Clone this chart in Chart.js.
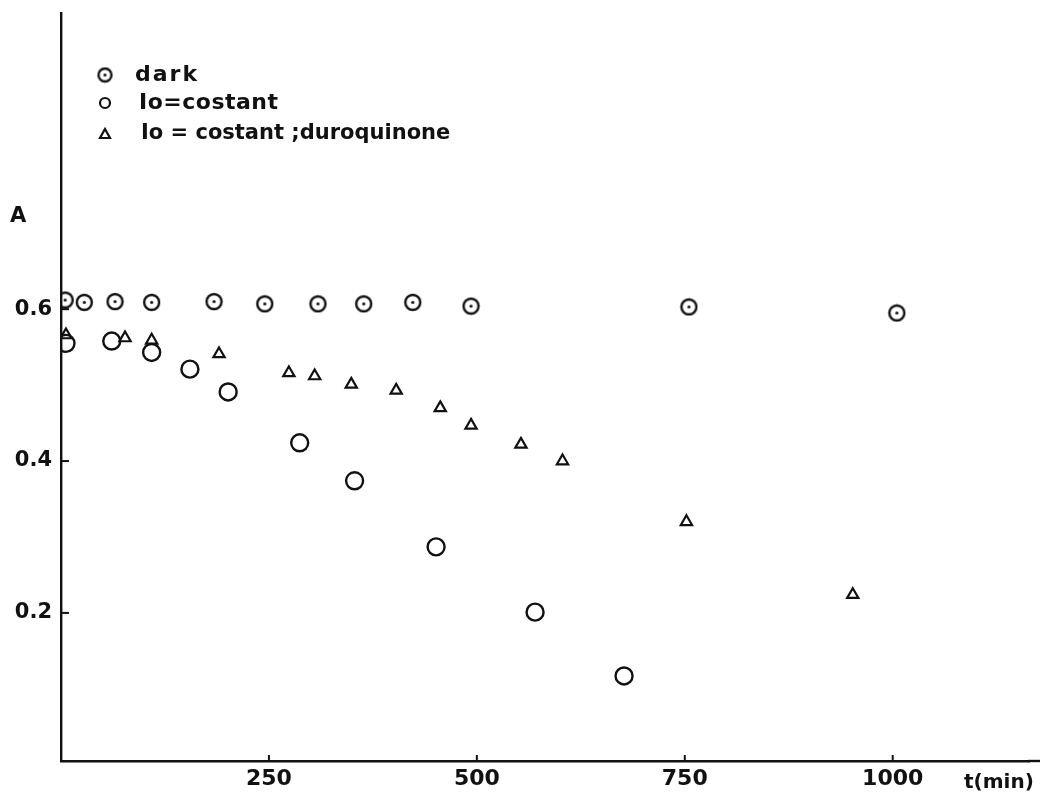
<!DOCTYPE html>
<html>
<head>
<meta charset="utf-8">
<script src="https://cdn.jsdelivr.net/npm/chart.js@4.4.1/dist/chart.umd.min.js"></script>
<style>
  html, body { margin: 0; padding: 0; background: #fff; }
  #wrap { width: 1040px; height: 795px; position: relative; }
</style>
</head>
<body>
<div id="wrap"><canvas id="absChart"></canvas></div>
<script>
// data (t in min, A absorbance)
const darkT = [5, 28, 65, 109, 184, 245, 309, 364, 423, 493, 755, 1005];
const darkA = [0.612, 0.609, 0.610, 0.609, 0.610, 0.607, 0.607, 0.607, 0.609, 0.604, 0.603, 0.595];

const lightT = [6, 61, 109, 155, 201, 287, 353, 451, 570, 677];
const lightA = [0.555, 0.558, 0.543, 0.521, 0.491, 0.424, 0.374, 0.287, 0.201, 0.117];

const duroT = [6, 77, 109, 190, 274, 305, 349, 403, 456, 493, 553, 603, 752, 952];
const duroA = [0.566, 0.562, 0.559, 0.541, 0.516, 0.512, 0.501, 0.493, 0.470, 0.447, 0.422, 0.400, 0.320, 0.224];

const xTicks = [250, 500, 750, 1000];
const yTicks = [0.2, 0.4, 0.6];

const legendLabels = ['dark', 'Io=costant', 'Io = costant ;duroquinone'];

const INK = '#111';
const FONT = '"DejaVu Sans", "Liberation Sans", sans-serif';

// circle with a dot in the middle, for the "dark" series
function dotCircle(r) {
    const c = document.createElement('canvas');
    const s = Math.ceil(r * 2 + 4);
    c.width = s; c.height = s;
    const g = c.getContext('2d');
    g.strokeStyle = INK;
    g.lineWidth = 2.4;
    g.beginPath();
    g.arc(s / 2, s / 2, r, 0, Math.PI * 2);
    g.stroke();
    g.fillStyle = INK;
    g.beginPath();
    g.arc(s / 2, s / 2, 1.6, 0, Math.PI * 2);
    g.fill();
    return c;
}

const darkMarker = dotCircle(7.5);
const legendDark = dotCircle(6.5);

function pts(xs, ys) {
    return xs.map((x, i) => ({ x: x, y: ys[i] }));
}

function spaced(ctx, text, x, y, gap) {
    if ('letterSpacing' in ctx) ctx.letterSpacing = gap + 'px';
    ctx.fillText(text, x, y);
    if ('letterSpacing' in ctx) ctx.letterSpacing = '0px';
}

// inward tick marks, axis labels and the legend block
const decorations = {
    id: 'decorations',
    afterDraw(chart) {
        const ctx = chart.ctx;
        const xs = chart.scales.x, ys = chart.scales.y;
        const area = chart.chartArea;
        ctx.save();
        ctx.strokeStyle = INK;
        // x axis runs on to the right edge of the page
        ctx.lineWidth = 2.4;
        ctx.beginPath();
        ctx.moveTo(area.right - 1, area.bottom);
        ctx.lineTo(chart.width, area.bottom);
        ctx.stroke();

        ctx.lineWidth = 2;
        yTicks.forEach(v => {
            const py = ys.getPixelForValue(v);
            ctx.beginPath();
            ctx.moveTo(area.left, py);
            ctx.lineTo(area.left + 8, py);
            ctx.stroke();
        });
        xTicks.forEach(v => {
            const px = xs.getPixelForValue(v);
            ctx.beginPath();
            ctx.moveTo(px, area.bottom);
            ctx.lineTo(px, area.bottom - 6);
            ctx.stroke();
        });

        ctx.fillStyle = INK;
        ctx.textBaseline = 'middle';
        ctx.textAlign = 'left';
        ctx.font = 'bold 21px ' + FONT;
        ctx.fillText('A', 10, 217);
        ctx.font = 'bold 20px ' + FONT;
        ctx.fillText('t(min)', 964, 783);

        // legend
        const rows = [75, 103, 134];
        ctx.drawImage(legendDark, 105 - legendDark.width / 2, rows[0] - legendDark.height / 2);
        ctx.lineWidth = 2.2;
        ctx.beginPath();
        ctx.arc(105, rows[1], 5, 0, Math.PI * 2);
        ctx.stroke();
        ctx.beginPath();
        ctx.moveTo(100, rows[2] + 4);
        ctx.lineTo(110, rows[2] + 4);
        ctx.lineTo(105, rows[2] - 5);
        ctx.closePath();
        ctx.stroke();

        ctx.font = 'bold 22px ' + FONT;
        spaced(ctx, legendLabels[0], 135, rows[0], 2);
        spaced(ctx, legendLabels[1], 139, rows[1], 0.5);
        ctx.font = 'bold 21px ' + FONT;
        spaced(ctx, legendLabels[2], 141, rows[2], 0);
        ctx.restore();
    }
};

const ctx = document.getElementById('absChart').getContext('2d');
const chart = new Chart(ctx, {
    type: 'scatter',
    data: {
        datasets: [
            {
                label: legendLabels[0],
                data: pts(darkT, darkA),
                pointStyle: darkMarker
            },
            {
                label: legendLabels[1],
                data: pts(lightT, lightA),
                pointStyle: 'circle',
                pointRadius: 8.5,
                pointBorderWidth: 2.4,
                pointBorderColor: INK,
                pointBackgroundColor: 'rgba(0,0,0,0)'
            },
            {
                label: legendLabels[2],
                data: pts(duroT, duroA),
                pointStyle: 'triangle',
                pointRadius: 6.5,
                pointBorderWidth: 2.2,
                pointBorderColor: INK,
                pointBackgroundColor: 'rgba(0,0,0,0)'
            }
        ]
    },
    options: {
        responsive: true,
        maintainAspectRatio: false,
        animation: false,
        layout: {
            padding: { top: 13, right: 0, left: 0, bottom: 0 }
        },
        scales: {
            x: {
                type: 'linear',
                min: 0,
                max: 1164,
                afterFit: function (scale) {
                    scale.height = 34;
                    scale.paddingLeft = 0;
                    scale.paddingRight = 0;
                },
                afterBuildTicks: function (scale) {
                    scale.ticks = xTicks.map(v => ({ value: v }));
                },
                grid: { display: false, drawTicks: false },
                border: { display: true, color: INK, width: 2.4 },
                ticks: {
                    padding: 5,
                    color: INK,
                    font: { family: FONT, size: 22, weight: 'bold' },
                    callback: function (value) {
                        return String(value);
                    }
                }
            },
            y: {
                type: 'linear',
                min: 0.005,
                max: 0.99,
                afterFit: function (scale) {
                    scale.width = 61;
                    scale.paddingTop = 0;
                    scale.paddingBottom = 0;
                },
                afterBuildTicks: function (scale) {
                    scale.ticks = yTicks.map(v => ({ value: v }));
                },
                grid: { display: false, drawTicks: false },
                border: { display: true, color: INK, width: 2.4 },
                ticks: {
                    padding: 9,
                    color: INK,
                    font: { family: FONT, size: 21, weight: 'bold' },
                    callback: function (value) {
                        return value.toFixed(1);
                    }
                }
            }
        },
        plugins: {
            legend: { display: false },
            tooltip: { enabled: false }
        }
    },
    plugins: [decorations]
});
</script>
</body>
</html>
